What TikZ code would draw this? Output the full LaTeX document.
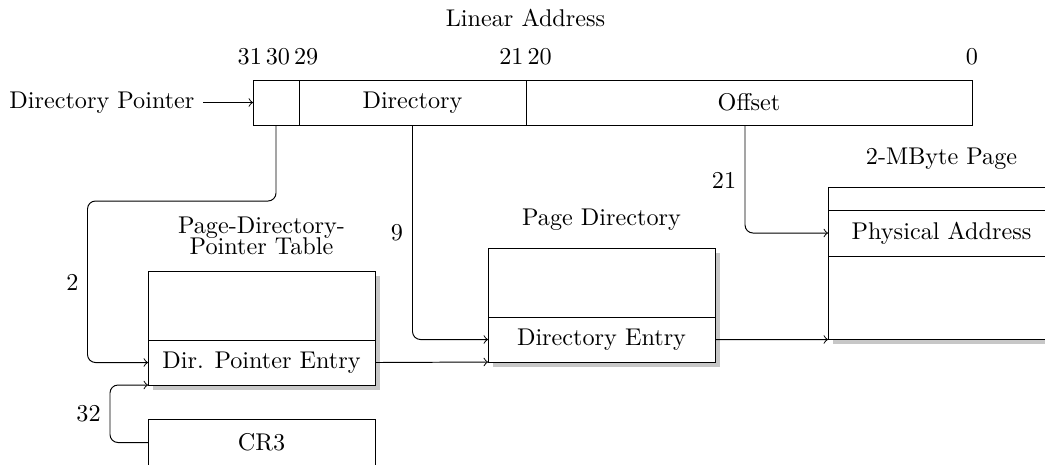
\documentclass[tikz,border=0pt]{standalone}
\usetikzlibrary{shadows}
\def\pxu{0.4132pt}
\begin{document}
\begin{tikzpicture}[x=0.4132pt,y=-0.4132pt,
  field/.style={draw, inner sep=0pt, outer sep=0pt, minimum height=45*\pxu},
  tablebox/.style={draw, fill=white, inner sep=0pt, outer sep=0pt,
    drop shadow={shadow xshift=2pt, shadow yshift=-2pt, fill=black!22, opacity=1}},
  entry/.style={draw, inner sep=0pt, outer sep=0pt, minimum width=227*\pxu},
  conn/.style={->, rounded corners=3.3pt},
  numlbl/.style={inner sep=0pt},
]
\useasboundingbox (0,0) rectangle (1045,464);
\clip (0,0) rectangle (1045,464);

% linear address
\node (title) at (525.5,18) {Linear Address};
\node (b31) at (278,57) {31\,30\,29};
\node (b21) at (525.5,57) {21\,20};
\node (b0) at (972,57) {0};
\node[field, minimum width=46*\pxu] (f31) at (276,102.5) {};
\node[field, minimum width=227*\pxu] (fdir) at (412.5,102.5) {Directory};
\node[field, minimum width=446*\pxu] (foff) at (749,102.5) {Offset};
\node[anchor=east] (dp) at (203,102.5) {Directory Pointer};
\draw[->] (dp.east) -- (f31.west);

% page-directory-pointer table
\node[align=center] (pdpttitle) at (261.5,236) {Page-Directory-\\[-3.2pt]Pointer Table};
\node[tablebox, minimum width=227*\pxu, minimum height=114*\pxu] (pdpt) at (261.5,328) {};
\node[entry, minimum height=45*\pxu] (pdpte) at (261.5,362.5) {Dir. Pointer Entry};

% page directory
\node (pdtitle) at (601.5,220) {Page Directory};
\node[tablebox, minimum width=227*\pxu, minimum height=114*\pxu] (pd) at (601.5,305) {};
\node[entry, minimum height=45*\pxu] (pde) at (601.5,339.5) {Directory Entry};

% 2-MByte page
\node (mbtitle) at (941.5,159) {2-MByte Page};
\node[tablebox, minimum width=227*\pxu, minimum height=152.5*\pxu] (mb) at (941.5,263.25) {};
\node[entry, minimum height=46*\pxu] (phys) at (941.5,233) {Physical Address};

% CR3
\node[entry, minimum height=47*\pxu] (cr3) at (261.5,442.5) {CR3};

% connectors
\draw[conn] (f31.south) -- (f31.south |- 0,201) -- (87.5,201) |- (pdpte.west);
\node[numlbl] (n2) at (72.5,282) {2};
\draw[conn] (fdir.south) |- (pde.west);
\node[numlbl] (n9) at (397,233) {9};
\coordinate (offdown) at ([xshift=-4*\pxu]foff.south);
\draw[conn] (offdown) |- (phys.west);
\node[numlbl] (n21) at (724,180) {21};
\draw[->] (pdpte.east) -- (pd.south west);
\draw[->] (pde.east) -- (mb.south west);
\draw[conn] (cr3.west) -- (110,442.5) |- (pdpt.south west);
\node[numlbl] (n32) at (88.5,414) {32};
\end{tikzpicture}
\end{document}
